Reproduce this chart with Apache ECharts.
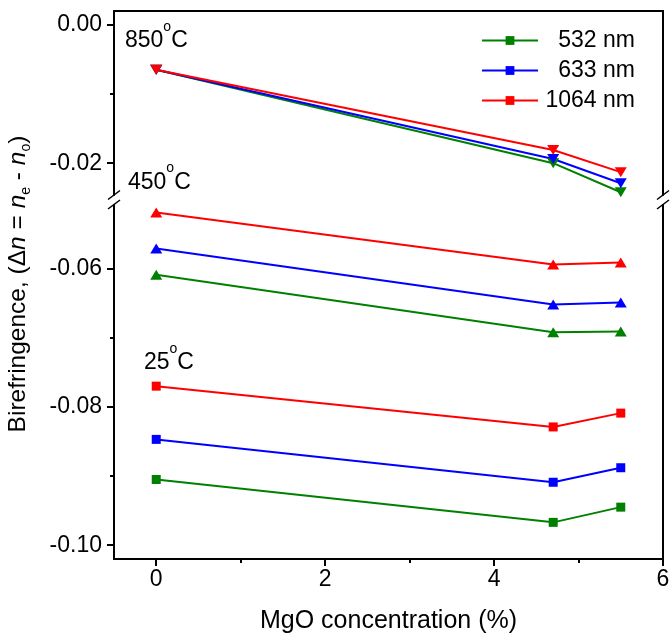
<!DOCTYPE html>
<html>
<head>
<meta charset="utf-8">
<script src="https://cdn.jsdelivr.net/npm/echarts@6/dist/echarts.min.js"></script>
<style>
html, body { margin: 0; padding: 0; background: #fff; }
#main { width: 670px; height: 635px; }
</style>
</head>
<body>
<div id="main"></div>
<script>
// MgO concentration (%)
var mgo = [0, 4.7, 5.5];

// birefringence, one list per temperature and wavelength
var t850_532 = [-0.0065, -0.0200, -0.0242];
var t850_633 = [-0.0065, -0.0194, -0.0229];
var t850_1064 = [-0.0065, -0.0181, -0.0213];
var t450_532 = [-0.0609, -0.0692, -0.0691];
var t450_633 = [-0.0571, -0.0652, -0.0649];
var t450_1064 = [-0.0519, -0.0594, -0.0591];
var t25_532 = [-0.0905, -0.0967, -0.0945];
var t25_633 = [-0.0847, -0.0909, -0.0888];
var t25_1064 = [-0.0770, -0.0829, -0.0809];

var wavelengths = ['532 nm', '633 nm', '1064 nm'];

// ticks
var xMajor = [0, 2, 4, 6];
var xMinor = [1, 3, 5];
var yTopMajor = [0, -0.02];
var yTopMinor = [-0.01];
var yBotMajor = [-0.06, -0.08, -0.10];
var yBotMinor = [-0.07, -0.09];

var FONT = 'Liberation Sans, Arial, sans-serif';
var colors = ['#008000', '#0000ff', '#ff0000'];
var axisLn = { show: true, onZero: false, lineStyle: { color: '#000', width: 2 } };

function mkSeries(name, color, ys, idx, symbol, size, rotate) {
    return {
        name: name,
        type: 'line',
        xAxisIndex: idx,
        yAxisIndex: idx === 0 ? 0 : 3,
        data: mgo.map(function (x, i) { return [x, ys[i]]; }),
        symbol: symbol,
        symbolSize: size,
        symbolRotate: rotate,
        showAllSymbol: true,
        clip: false,
        lineStyle: { color: color, width: 2 },
        itemStyle: { color: color },
        emphasis: { disabled: true }
    };
}

var series = [];
// squares first so the legend takes the square icon
[t25_532, t25_633, t25_1064].forEach(function (ys, k) {
    series.push(mkSeries(wavelengths[k], colors[k], ys, 1, 'rect', 9, 0));
});
[t450_532, t450_633, t450_1064].forEach(function (ys, k) {
    series.push(mkSeries(wavelengths[k], colors[k], ys, 1, 'triangle', [12, 10], 0));
});
[t850_532, t850_633, t850_1064].forEach(function (ys, k) {
    series.push(mkSeries(wavelengths[k], colors[k], ys, 0, 'triangle', [12, 10], 180));
});

function majorY(grid, min, max, vals) {
    return {
        type: 'value', gridIndex: grid, position: 'left', min: min, max: max,
        axisLine: axisLn, splitLine: { show: false },
        axisTick: { show: true, length: 7, customValues: vals, lineStyle: { color: '#000', width: 2 } },
        axisLabel: { show: true, customValues: vals, margin: 12, color: '#000', fontSize: 23, fontFamily: FONT,
            formatter: function (v) { return v.toFixed(2); } }
    };
}
function minorY(grid, min, max, vals) {
    return {
        type: 'value', gridIndex: grid, position: 'left', min: min, max: max,
        axisLine: { show: false, onZero: false }, splitLine: { show: false }, axisLabel: { show: false },
        axisTick: { show: true, length: 4, customValues: vals, lineStyle: { color: '#000', width: 2 } }
    };
}
function rightY(grid, min, max) {
    return {
        type: 'value', gridIndex: grid, position: 'right', min: min, max: max,
        axisLine: axisLn, splitLine: { show: false }, axisLabel: { show: false }, axisTick: { show: false }
    };
}

function sup(t) {
    return {
        text: t,
        rich: { s: { fontSize: 14, lineHeight: 14, verticalAlign: 'top', fontFamily: FONT, fill: '#000' } },
        fontSize: 23, lineHeight: 42, fontFamily: FONT, fill: '#000',
        align: 'left', verticalAlign: 'middle'
    };
}

function breakMarks(x0) {
    return [195, 204.5].map(function (yc) {
        return {
            type: 'line',
            shape: { x1: x0 - 6, y1: yc + 4.5, x2: x0 + 6, y2: yc - 4.5 },
            style: { stroke: '#000', lineWidth: 1.5 }
        };
    });
}

var myChart = echarts.init(document.getElementById('main'));
var option = {
    animation: false,
    backgroundColor: '#fff',
    grid: [
        { left: 114, right: 7, top: 11, height: 184, outerBoundsMode: 'none', containLabel: false },
        { left: 114, right: 7, top: 205, height: 354, outerBoundsMode: 'none', containLabel: false }
    ],
    xAxis: [
        {
            type: 'value', gridIndex: 0, position: 'top', min: -0.5, max: 6,
            axisLine: axisLn, axisTick: { show: false }, axisLabel: { show: false }, splitLine: { show: false }
        },
        {
            type: 'value', gridIndex: 1, position: 'bottom', min: -0.5, max: 6,
            axisLine: axisLn, splitLine: { show: false },
            axisTick: { show: true, length: 7, customValues: xMajor, lineStyle: { color: '#000', width: 2 } },
            axisLabel: { show: true, customValues: xMajor, margin: 9, color: '#000', fontSize: 23, fontFamily: FONT },
            name: 'MgO concentration (%)', nameLocation: 'middle', nameGap: 50,
            nameTextStyle: { color: '#000', fontSize: 25, fontFamily: FONT }
        },
        {
            type: 'value', gridIndex: 1, position: 'bottom', min: -0.5, max: 6,
            axisLine: { show: false, onZero: false }, splitLine: { show: false }, axisLabel: { show: false },
            axisTick: { show: true, length: 4, customValues: xMinor, lineStyle: { color: '#000', width: 2 } }
        }
    ],
    yAxis: [
        majorY(0, -0.0246, 0.002, yTopMajor),
        minorY(0, -0.0246, 0.002, yTopMinor),
        rightY(0, -0.0246, 0.002),
        majorY(1, -0.102, -0.0508, yBotMajor),
        minorY(1, -0.102, -0.0508, yBotMinor),
        rightY(1, -0.102, -0.0508)
    ],
    legend: {
        data: wavelengths,
        orient: 'vertical',
        left: 481,
        top: 29,
        padding: 0,
        itemGap: 7,
        itemWidth: 56,
        itemHeight: 11,
        selectedMode: false,
        formatter: function (name) { return '{a|' + name + '}'; },
        textStyle: {
            rich: { a: { width: 92, align: 'right', fontSize: 23, lineHeight: 26, color: '#000', fontFamily: FONT } }
        }
    },
    graphic: [
        {
            type: 'text', x: 18.5, y: 284, rotation: Math.PI / 2,
            style: {
                text: 'Birefringence, (\u0394{i|n} = {i|n}{s|e} - {i|n}{s|o})',
                fontSize: 24.5, lineHeight: 30, fontFamily: FONT, fill: '#000',
                align: 'center', verticalAlign: 'middle',
                rich: {
                    i: { fontSize: 24.5, fontStyle: 'italic', fontFamily: FONT, fill: '#000' },
                    s: { fontSize: 14, lineHeight: 14, verticalAlign: 'bottom', fontFamily: FONT, fill: '#000' }
                }
            }
        },
        { type: 'text', x: 125, y: 41, style: sup('850{s|o}C') },
        { type: 'text', x: 128, y: 182.5, style: sup('450{s|o}C') },
        { type: 'text', x: 144, y: 363, style: sup('25{s|o}C') }
    ].concat(breakMarks(114), breakMarks(663)),
    series: series
};
myChart.setOption(option);
window.onresize = myChart.resize;
</script>
</body>
</html>
